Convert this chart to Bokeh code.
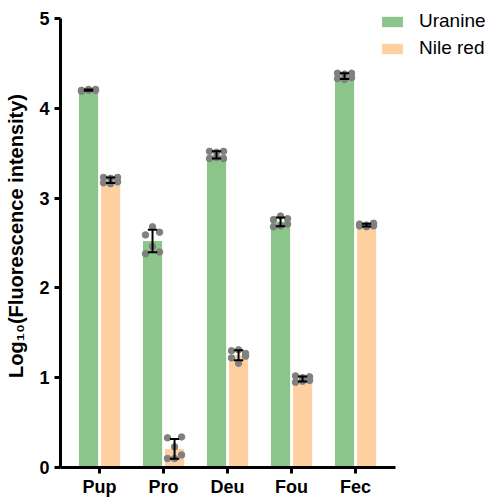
import numpy as np
from bokeh.plotting import figure
from bokeh.models import Range1d, FixedTicker, Legend, LegendItem, ColumnDataSource
from bokeh.embed import file_html
from bokeh.resources import INLINE

# ---------------- data ----------------
categories = ["Pup", "Pro", "Deu", "Fou", "Fec"]
series_names = ["Uranine", "Nile red"]

uranine_points = [
    [4.20, 4.21, 4.20, 4.19, 4.20, 4.21],   # Pup
    [2.59, 2.68, 2.62, 2.38, 2.46, 2.40],   # Pro
    [3.52, 3.51, 3.52, 3.44, 3.45, 3.44],   # Deu
    [2.76, 2.80, 2.77, 2.68, 2.69, 2.71],   # Fou
    [4.39, 4.38, 4.39, 4.33, 4.32, 4.34],   # Fec
]
nile_red_points = [
    [3.23, 3.22, 3.23, 3.17, 3.16, 3.18],   # Pup
    [0.33, 0.23, 0.34, 0.10, 0.10, 0.14],   # Pro
    [1.30, 1.31, 1.27, 1.22, 1.16, 1.24],   # Deu
    [1.02, 1.00, 1.01, 0.95, 0.96, 0.97],   # Fou
    [2.71, 2.70, 2.72, 2.69, 2.68, 2.69],   # Fec
]
y_ticks = [0, 1, 2, 3, 4, 5]

# ---------------- style ----------------
GREEN = "#8BC58A"
ORANGE = "#FFD09F"
POINT = "#808080"
BAR_W = 0.30
OFFSET = 0.172
JITTER = [-0.11, 0.0, 0.11, -0.11, 0.0, 0.11]
CAP = 0.073
FONT = "Liberation Sans"

W, H = 490, 499
LEFT, TOP, BOTTOM = 60, 4, 30
PX_PER_UNIT_X = 64.0
PX_PER_UNIT_Y = 90.2
X0 = -0.61
X_AXIS_END = 4.625
x_end = X0 + (W - LEFT) / PX_PER_UNIT_X
Y_AXIS_END = 5.0
y_end = Y_AXIS_END + 14 / PX_PER_UNIT_Y

p = figure(width=W, height=H,
           x_range=Range1d(X0, x_end), y_range=Range1d(0, y_end),
           output_backend="svg", toolbar_location=None,
           min_border_left=LEFT, min_border_right=0,
           min_border_top=TOP, min_border_bottom=BOTTOM)
p.background_fill_color = "white"
p.border_fill_color = "white"
p.outline_line_color = None
p.xgrid.visible = False
p.ygrid.visible = False

renderers = []
for k, (pts, color, shift) in enumerate([(uranine_points, GREEN, -OFFSET),
                                          (nile_red_points, ORANGE, OFFSET)]):
    arr = [np.array(v) for v in pts]
    means = [float(a.mean()) for a in arr]
    sds = [float(a.std(ddof=1)) for a in arr]
    xs = [i + shift for i in range(len(categories))]
    src = ColumnDataSource(dict(x=xs, top=means))
    r = p.vbar(x="x", top="top", width=BAR_W, bottom=0, source=src,
               fill_color=color, line_color=None)
    renderers.append(r)

    px, py = [], []
    for i, a in enumerate(arr):
        for j, v in enumerate(a):
            px.append(xs[i] + JITTER[j % len(JITTER)])
            py.append(float(v))
    p.scatter(px, py, size=6.5, fill_color=POINT, line_color=POINT)

    lo = [m - s for m, s in zip(means, sds)]
    hi = [m + s for m, s in zip(means, sds)]
    p.segment(xs, lo, xs, hi, line_color="black", line_width=2)
    p.segment([x - CAP for x in xs], hi, [x + CAP for x in xs], hi,
              line_color="black", line_width=2)
    p.segment([x - CAP for x in xs], lo, [x + CAP for x in xs], lo,
              line_color="black", line_width=2)

# axes
p.xaxis.ticker = FixedTicker(ticks=list(range(len(categories))))
p.xaxis.major_label_overrides = {i: c for i, c in enumerate(categories)}
p.xaxis.bounds = (X0, X_AXIS_END)
p.yaxis.ticker = FixedTicker(ticks=y_ticks)
p.yaxis.bounds = (0, Y_AXIS_END)
for ax in (p.xaxis, p.yaxis):
    ax.axis_line_width = 3
    ax.axis_line_color = "black"
    ax.major_tick_line_width = 3
    ax.major_tick_line_color = "black"
    ax.major_tick_out = 6
    ax.major_tick_in = 0
    ax.minor_tick_line_color = None
    ax.major_label_text_font = FONT
    ax.major_label_text_font_style = "bold"
    ax.major_label_text_font_size = "18px"
    ax.major_label_text_color = "black"
p.xaxis.major_label_standoff = 3
p.yaxis.major_label_standoff = 5
p.yaxis.axis_label = "Log\u2081\u2080(Fluorescence intensity)"
p.yaxis.axis_label_text_font = FONT
p.yaxis.axis_label_text_font_style = "bold"
p.yaxis.axis_label_text_font_size = "20px"
p.yaxis.axis_label_text_color = "black"
p.yaxis.axis_label_standoff = 9

legend = Legend(items=[LegendItem(label=series_names[0], renderers=[renderers[0]]),
                       LegendItem(label=series_names[1], renderers=[renderers[1]])],
                location=(319, 408), orientation="vertical",
                glyph_width=26, glyph_height=13, label_height=20, spacing=5,
                label_standoff=14, padding=0, margin=0,
                border_line_alpha=0, background_fill_alpha=0,
                label_text_font=FONT, label_text_font_size="19px",
                label_text_color="black")
p.add_layout(legend)

open("out.html", "w").write(file_html(p, INLINE))
